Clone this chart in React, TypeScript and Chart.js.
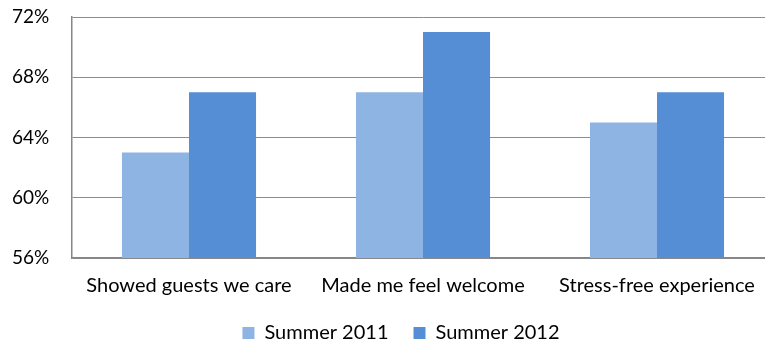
import React, { useEffect, useRef } from "react";
import { Chart, registerables } from "chart.js";

Chart.register(...registerables);

const categories = ["Showed guests we care", "Made me feel welcome", "Stress-free experience"];
const summer2011 = [63, 67, 65];
const summer2012 = [67, 71, 67];
const seriesLabels = ["Summer 2011", "Summer 2012"];

const FONT = "Lato, 'Open Sans', sans-serif";

const shiftLegend = {
  id: "shiftLegend",
  afterLayout(chart: any) {
    if (chart.legend) {
      chart.legend.left += 8;
      chart.legend.right += 8;
    }
  },
};

export default function App() {
  const ref = useRef<HTMLCanvasElement>(null);
  useEffect(() => {
    if (!ref.current) return;
    const chart = new Chart(ref.current, {
      type: "bar",
      data: {
        labels: categories,
        datasets: [
          { label: seriesLabels[0], data: summer2011, backgroundColor: "#8EB4E3", borderWidth: 0 },
          { label: seriesLabels[1], data: summer2012, backgroundColor: "#558ED5", borderWidth: 0 },
        ],
      },
      options: {
        animation: false,
        responsive: false,
        maintainAspectRatio: false,
        layout: { padding: { top: 17, right: 0, left: 12, bottom: -8 } },
        datasets: { bar: { categoryPercentage: 0.573, barPercentage: 1 } },
        plugins: {
          tooltip: { enabled: false },
          legend: {
            position: "bottom",
            labels: {
              font: { family: FONT, size: 20 },
              color: "#000",
              boxWidth: 12,
              boxHeight: 12,
              padding: 25,
            },
          },
        },
        scales: {
          x: {
            grid: { display: false, drawTicks: false },
            border: { display: true, color: "#868686", width: 1.5 },
            ticks: { font: { family: FONT, size: 20 }, color: "#000", padding: 16 },
            afterFit: (s: any) => { s.height = 40; },
          },
          y: {
            min: 56,
            max: 72,
            grid: { color: "#8c8c8c", drawTicks: false },
            border: { display: true, color: "#868686", width: 1.5 },
            ticks: {
              stepSize: 4,
              font: { family: FONT, size: 19 },
              color: "#000",
              padding: 0,
              crossAlign: "far",
              callback: (v: any) => v + "%",
            },
            afterFit: (s: any) => { s.width = 60; },
          },
        },
      },
      plugins: [shiftLegend],
    });
    return () => chart.destroy();
  }, []);
  return (
    <div style={{ position: "fixed", left: 0, top: 0, width: 765, height: 345, background: "#fff", overflow: "hidden" }}>
      <canvas ref={ref} width={774} height={345} style={{ width: 774, height: 345 }} />
    </div>
  );
}
